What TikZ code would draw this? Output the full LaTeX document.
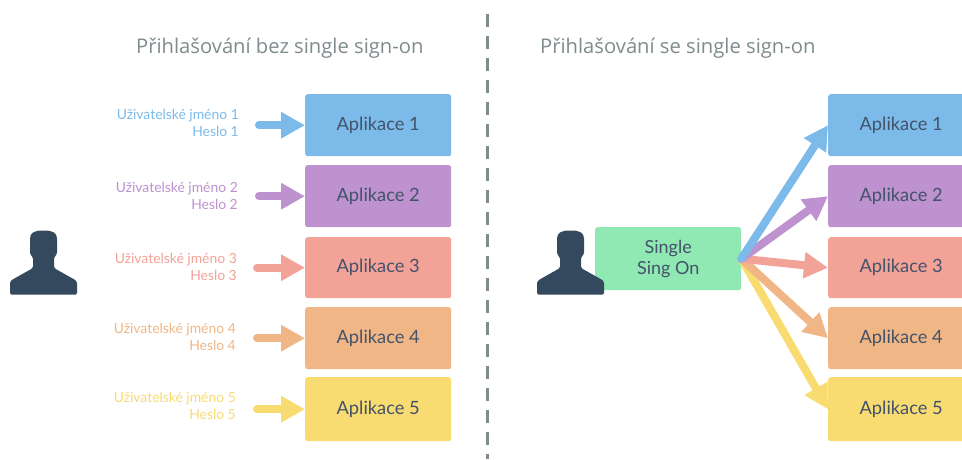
\documentclass[tikz,border=0pt]{standalone}
\usepackage{fontspec}
\setmainfont{Lato}
\newfontfamily\titlefont{Open Sans}
\usetikzlibrary{arrows.meta}
\definecolor{cblue}{HTML}{7CBBE9}
\definecolor{cpurple}{HTML}{BD92CF}
\definecolor{csalmon}{HTML}{F3A297}
\definecolor{corange}{HTML}{F1B685}
\definecolor{cyellow}{HTML}{F8DB71}
\definecolor{cgreen}{HTML}{90E8B3}
\definecolor{cdark}{HTML}{34495E}
\definecolor{ctext}{HTML}{42536A}
\definecolor{ctitle}{HTML}{7F8C8D}
\tikzset{
  appbox/.style={fill=#1,rounded corners=2.5pt,minimum width=146pt,inner sep=0pt,anchor=north west,text=ctext,font=\fontsize{18.3}{20}\selectfont},
  cred/.style={text=#1,align=right,anchor=east,inner sep=0pt,font=\fontsize{13.9}{17}\selectfont},
  flow/.style={draw=#1,line width=8pt,line cap=round,-{Triangle[length=24pt,width=25pt,fill=#1]}},
  title/.style={text=ctitle,anchor=west,inner sep=0pt,font=\titlefont\fontsize{20.2}{24}\selectfont},
  personshape/.pic={
    \fill[cdark,rounded corners=1.5pt] (-13.5,-35) .. controls (-13.5,-42) and (-9,-44.5) .. (0,-44.5)
      .. controls (9,-44.5) and (13.5,-42) .. (13.5,-35) -- (13.5,-24) .. controls (13.5,-21) and (12,-19) .. (10.5,-18)
      -- (10.5,-7) -- (30,4) .. controls (32.5,5.5) and (33.5,7) .. (33.5,10) -- (33.5,19.5) -- (-33.5,19.5) -- (-33.5,10)
      .. controls (-33.5,7) and (-32.5,5.5) .. (-30,4) -- (-10.5,-7) -- (-10.5,-18)
      .. controls (-12,-19) and (-13.5,-21) .. (-13.5,-24) -- cycle;
  }
}
\begin{document}
\begin{tikzpicture}[x=1pt,y=-1pt]
\clip (0,0) rectangle (962,459);
\fill[white] (0,0) rectangle (962,459);
\coordinate (divtop) at (487,14);
\coordinate (divbot) at (487,459);
\draw[ctitle,line width=3pt,dash pattern=on 13pt off 9pt] (divtop) -- (divbot);
\node[title] (t1) at (136,48) {Přihlašování bez single sign-on};
\node[title] (t2) at (540,48) {Přihlašování se single sign-on};
% left boxes
\node[appbox=cblue,minimum height=62pt] (a1) at (305,94) {Aplikace 1};
\node[appbox=cpurple,minimum height=62pt] (a2) at (305,165) {Aplikace 2};
\node[appbox=csalmon,minimum height=61pt] (a3) at (305,237) {Aplikace 3};
\node[appbox=corange,minimum height=62pt] (a4) at (305,307) {Aplikace 4};
\node[appbox=cyellow,minimum height=64pt] (a5) at (305,377) {Aplikace 5};
% labels
\node[cred=cblue] (l1) at (239,123) {Uživatelské jméno 1\\Heslo 1};
\node[cred=cpurple] (l2) at (238,195.5) {Uživatelské jméno 2\\Heslo 2};
\node[cred=csalmon] (l3) at (237,266.5) {Uživatelské jméno 3\\Heslo 3};
\node[cred=corange] (l4) at (236,336.5) {Uživatelské jméno 4\\Heslo 4};
\node[cred=cyellow] (l5) at (236,405.5) {Uživatelské jméno 5\\Heslo 5};
% left arrows
\draw[flow=cblue] ([xshift=20pt]l1.east |- a1.west) -- (a1.west);
\draw[flow=cpurple] ([xshift=21pt]l2.east |- a2.west) -- (a2.west);
\draw[flow=csalmon] ([xshift=20pt]l3.east |- a3.west) -- (a3.west);
\draw[flow=corange] ([xshift=21pt]l4.east |- a4.west) -- (a4.west);
\draw[flow=cyellow] ([xshift=21pt]l5.east |- a5.west) -- (a5.west);
\pic at (43.5,275) {personshape};
% right boxes
\node[appbox=cblue,minimum height=62pt] (b1) at (828,94) {Aplikace 1};
\node[appbox=cpurple,minimum height=62pt] (b2) at (828,165) {Aplikace 2};
\node[appbox=csalmon,minimum height=61pt] (b3) at (828,237) {Aplikace 3};
\node[appbox=corange,minimum height=62pt] (b4) at (828,307) {Aplikace 4};
\node[appbox=cyellow,minimum height=64pt] (b5) at (828,377) {Aplikace 5};
\node[appbox=cgreen,minimum height=63pt,align=center,font=\fontsize{18}{21}\selectfont] (sso) at (595,227) {Single\\Sing On};
\pic at (570.5,275) {personshape};
\draw[flow=cyellow] (sso.east) -- (b5.west);
\draw[flow=corange] (sso.east) -- (b4.west);
\draw[flow=csalmon] (sso.east) -- (b3.west);
\draw[flow=cpurple] (sso.east) -- (b2.west);
\draw[flow=cblue] (sso.east) -- (b1.west);
\end{tikzpicture}
\end{document}
